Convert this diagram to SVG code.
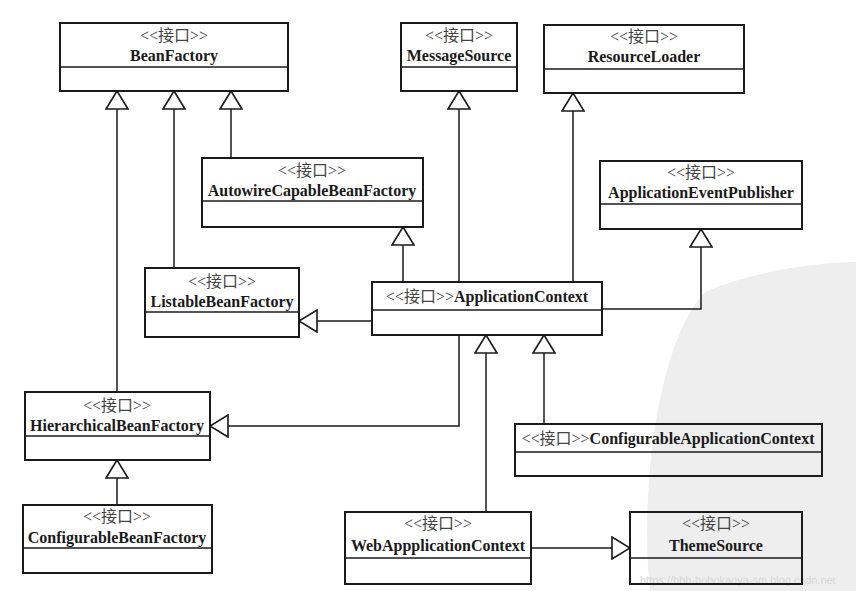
<svg xmlns="http://www.w3.org/2000/svg" width="856" height="591" viewBox="0 0 856 591">
<style>
.box{fill:none;stroke:#1a1a1a;stroke-width:2}
.div{stroke:#1a1a1a;stroke-width:1.6}
.st{font-family:"Liberation Serif","Noto Sans CJK SC",serif;font-size:16px;fill:#444;text-anchor:middle}
.nm{font-family:"Liberation Serif","Noto Sans CJK SC",serif;font-size:16px;font-weight:bold;fill:#1a1a1a;text-anchor:middle}
.ln{fill:none;stroke:#1a1a1a;stroke-width:1.5;marker-end:url(#tri)}
.wm{font-family:"Liberation Sans",sans-serif;font-size:11px;fill:#d6d6d6}
</style>
<defs>
<marker id="tri" viewBox="0 0 20 24" refX="19" refY="12" markerWidth="20" markerHeight="24" markerUnits="userSpaceOnUse" orient="auto">
<path d="M1,1 L19,12 L1,23 Z" fill="#fff" stroke="#1a1a1a" stroke-width="1.6"/>
</marker>
</defs>
<rect width="856" height="591" fill="#fff"/>
<path d="M705,292 C760,268 830,262 856,262 L856,591 L650,591 C640,500 655,345 705,292 Z" fill="#eeeeee"/>
<text class="wm" x="640" y="584">https://bbb-bobokaoya-sm.blog.csdn.net</text>

<g id="connectors">
<path class="ln" d="M117,392 V91"/>
<path class="ln" d="M174,268 V91"/>
<path class="ln" d="M231,158 V91"/>
<path class="ln" d="M459,282 V91"/>
<path class="ln" d="M573,282 V93"/>
<path class="ln" d="M602,309 H701 V229"/>
<path class="ln" d="M403,282 V227"/>
<path class="ln" d="M372,321 H299"/>
<path class="ln" d="M459,335 V426 H210"/>
<path class="ln" d="M486,512 V335"/>
<path class="ln" d="M544,424 V335"/>
<path class="ln" d="M117,505 V460"/>
<path class="ln" d="M531,548 H630"/>
</g>

<g id="BeanFactory">
<rect class="box" x="60" y="23" width="228" height="68"/>
<line class="div" x1="60" y1="67" x2="288" y2="67"/>
<text class="st" x="174" y="41">&lt;&lt;接口&gt;&gt;</text>
<text class="nm" x="174" y="61">BeanFactory</text>
</g>

<g id="MessageSource">
<rect class="box" x="401" y="23" width="116" height="68"/>
<line class="div" x1="401" y1="67" x2="517" y2="67"/>
<text class="st" x="459" y="41">&lt;&lt;接口&gt;&gt;</text>
<text class="nm" x="459" y="61">MessageSource</text>
</g>

<g id="ResourceLoader">
<rect class="box" x="544" y="25" width="200" height="68"/>
<line class="div" x1="544" y1="69" x2="744" y2="69"/>
<text class="st" x="644" y="42">&lt;&lt;接口&gt;&gt;</text>
<text class="nm" x="644" y="62">ResourceLoader</text>
</g>

<g id="AutowireCapableBeanFactory">
<rect class="box" x="202" y="158" width="221" height="69"/>
<line class="div" x1="202" y1="201" x2="423" y2="201"/>
<text class="st" x="312" y="176">&lt;&lt;接口&gt;&gt;</text>
<text class="nm" x="312" y="196">AutowireCapableBeanFactory</text>
</g>

<g id="ApplicationEventPublisher">
<rect class="box" x="600" y="161" width="202" height="68"/>
<line class="div" x1="600" y1="204" x2="802" y2="204"/>
<text class="st" x="701" y="178">&lt;&lt;接口&gt;&gt;</text>
<text class="nm" x="701" y="198">ApplicationEventPublisher</text>
</g>

<g id="ListableBeanFactory">
<rect class="box" x="145" y="268" width="154" height="69"/>
<line class="div" x1="145" y1="312" x2="299" y2="312"/>
<text class="st" x="222" y="287">&lt;&lt;接口&gt;&gt;</text>
<text class="nm" x="222" y="307">ListableBeanFactory</text>
</g>

<g id="ApplicationContext">
<rect class="box" x="372" y="282" width="230" height="53"/>
<line class="div" x1="372" y1="310" x2="602" y2="310"/>
<text class="nm" x="487" y="302"><tspan style="font-weight:normal;fill:#444">&lt;&lt;接口&gt;&gt;</tspan>ApplicationContext</text>
</g>

<g id="HierarchicalBeanFactory">
<rect class="box" x="25" y="392" width="185" height="68"/>
<line class="div" x1="25" y1="436" x2="210" y2="436"/>
<text class="st" x="117" y="411">&lt;&lt;接口&gt;&gt;</text>
<text class="nm" x="117" y="431">HierarchicalBeanFactory</text>
</g>

<g id="ConfigurableApplicationContext">
<rect class="box" x="515" y="424" width="307" height="52"/>
<line class="div" x1="515" y1="452" x2="822" y2="452"/>
<text class="nm" x="668" y="444"><tspan style="font-weight:normal;fill:#444">&lt;&lt;接口&gt;&gt;</tspan>ConfigurableApplicationContext</text>
</g>

<g id="ConfigurableBeanFactory">
<rect class="box" x="23" y="505" width="189" height="68"/>
<line class="div" x1="23" y1="548" x2="212" y2="548"/>
<text class="st" x="117" y="522">&lt;&lt;接口&gt;&gt;</text>
<text class="nm" x="117" y="543">ConfigurableBeanFactory</text>
</g>

<g id="WebAppplicationContext">
<rect class="box" x="345" y="512" width="186" height="72"/>
<line class="div" x1="345" y1="558" x2="531" y2="558"/>
<text class="st" x="438" y="529">&lt;&lt;接口&gt;&gt;</text>
<text class="nm" x="438" y="551">WebAppplicationContext</text>
</g>

<g id="ThemeSource">
<rect class="box" x="630" y="512" width="172" height="72"/>
<line class="div" x1="630" y1="558" x2="802" y2="558"/>
<text class="st" x="716" y="529">&lt;&lt;接口&gt;&gt;</text>
<text class="nm" x="716" y="551">ThemeSource</text>
</g>
</svg>
